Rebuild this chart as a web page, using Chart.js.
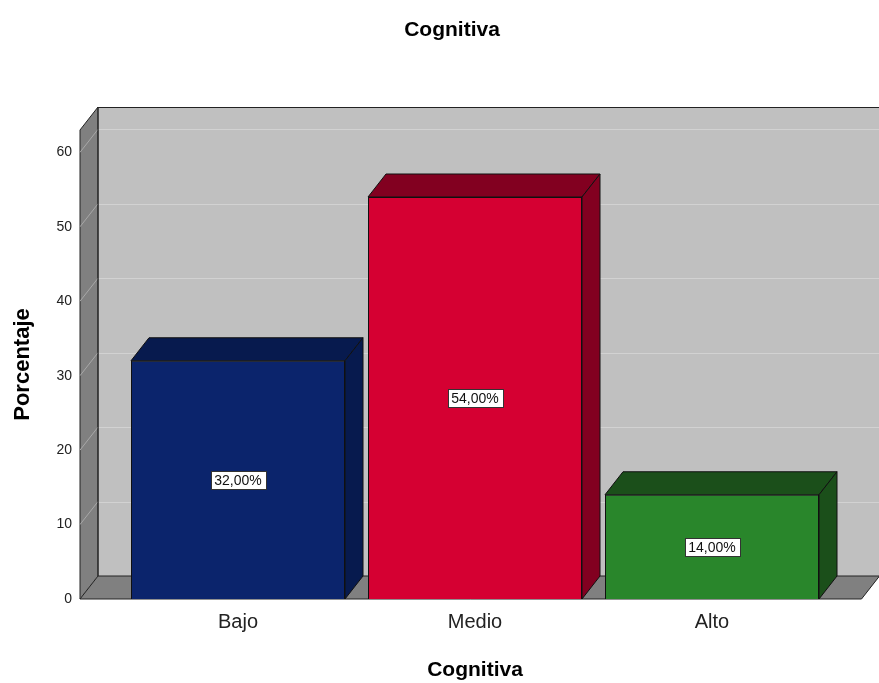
<!DOCTYPE html>
<html>
<head>
<meta charset="utf-8">
<script src="https://cdn.jsdelivr.net/npm/chart.js@4.4.1/dist/chart.umd.min.js"></script>
<style>
  body { margin: 0; background: #fff; }
  #wrap { width: 879px; height: 683px; }
</style>
</head>
<body>
<div id="wrap"><canvas id="chart" width="879" height="683"></canvas></div>
<script>
// chart values
const categories = ['Bajo', 'Medio', 'Alto'];
const percentages = [32, 54, 14];
const valueLabels = ['32,00%', '54,00%', '14,00%'];
const yTicks = [0, 10, 20, 30, 40, 50, 60];

const FONT = "'Liberation Sans', Arial, sans-serif";
const frontColors = ['#0b246c', '#d50032', '#29862b'];
const sideColors = ['#071a4e', '#820020', '#1b4f1a'];

// 3D look: depth offset of the back plane
const DX = 18, DY = -23;
const WALL_GAP = 39.5;   // front wall sits left of the chart area
const FLOOR_EXTRA = 31;  // floor runs past the chart area on the right

const box3d = {
  id: 'box3d',
  afterLayout(chart) {
    // centre the main title over the whole 3D frame, not the flat chart area
    if (chart.titleBlock) {
      chart.titleBlock.left = 25;
      chart.titleBlock.right = chart.width;
    }
  },
  beforeDatasetsDraw(chart) {
    const { ctx, chartArea: a, scales: { y } } = chart;
    const fx0 = a.left - WALL_GAP, fx1 = a.right + FLOOR_EXTRA;
    const top = y.getPixelForValue(y.max), base = y.getPixelForValue(0);
    ctx.save();
    ctx.lineWidth = 1;
    // back wall
    ctx.fillStyle = '#c0c0c0';
    ctx.fillRect(fx0 + DX, top + DY, fx1 + DX - (fx0 + DX) + 20, base - top);
    // back wall grid
    ctx.strokeStyle = '#d2d2d2';
    yTicks.forEach(v => {
      const py = Math.round(y.getPixelForValue(v) + DY) + 0.5;
      ctx.beginPath(); ctx.moveTo(fx0 + DX, py); ctx.lineTo(fx1 + DX + 20, py); ctx.stroke();
    });
    ctx.strokeStyle = '#222';
    ctx.beginPath(); ctx.moveTo(fx0 + DX, top + DY + 0.5); ctx.lineTo(fx1 + DX + 20, top + DY + 0.5); ctx.stroke();
    // left wall
    ctx.fillStyle = '#808080';
    ctx.beginPath();
    ctx.moveTo(fx0, base); ctx.lineTo(fx0, top); ctx.lineTo(fx0 + DX, top + DY); ctx.lineTo(fx0 + DX, base + DY);
    ctx.closePath(); ctx.fill(); ctx.stroke();
    ctx.strokeStyle = '#a8a8a8';
    yTicks.forEach(v => {
      const py = y.getPixelForValue(v);
      ctx.beginPath(); ctx.moveTo(fx0, py); ctx.lineTo(fx0 + DX, py + DY); ctx.stroke();
    });
    // floor
    ctx.fillStyle = '#808080';
    ctx.strokeStyle = '#222';
    ctx.beginPath();
    ctx.moveTo(fx0, base); ctx.lineTo(fx1, base); ctx.lineTo(fx1 + DX, base + DY); ctx.lineTo(fx0 + DX, base + DY);
    ctx.closePath(); ctx.fill(); ctx.stroke();
    ctx.beginPath(); ctx.moveTo(fx0 + DX, top + DY); ctx.lineTo(fx0 + DX, base + DY); ctx.stroke();
    ctx.restore();
  },
  afterDatasetsDraw(chart) {
    const { ctx } = chart;
    const bars = chart.getDatasetMeta(0).data;
    ctx.save();
    ctx.lineWidth = 1;
    bars.forEach((bar, i) => {
      const { x, y, base, width } = bar.getProps(['x', 'y', 'base', 'width'], true);
      const x0 = x - width / 2, x1 = x + width / 2;
      ctx.fillStyle = sideColors[i];
      ctx.strokeStyle = '#111';
      // top face
      ctx.beginPath();
      ctx.moveTo(x0, y); ctx.lineTo(x0 + DX, y + DY); ctx.lineTo(x1 + DX, y + DY); ctx.lineTo(x1, y);
      ctx.closePath(); ctx.fill(); ctx.stroke();
      // right face
      ctx.beginPath();
      ctx.moveTo(x1, y); ctx.lineTo(x1 + DX, y + DY); ctx.lineTo(x1 + DX, base + DY); ctx.lineTo(x1, base);
      ctx.closePath(); ctx.fill(); ctx.stroke();
      // value label
      ctx.font = '14px ' + FONT;
      const tw = ctx.measureText(valueLabels[i]).width;
      const cy = (y + base) / 2;
      const bw = Math.round(tw + 8), bh = 18;
      const bx = Math.round(x - bw / 2) + 0.5, by = Math.round(cy - bh / 2) + 0.5;
      ctx.fillStyle = '#fff';
      ctx.fillRect(bx, by, bw, bh);
      ctx.strokeStyle = '#333';
      ctx.strokeRect(bx, by, bw, bh);
      ctx.fillStyle = '#111';
      ctx.textAlign = 'center';
      ctx.textBaseline = 'middle';
      ctx.fillText(valueLabels[i], x, cy + 1);
    });
    ctx.restore();
  }
};

new Chart(document.getElementById('chart'), {
  type: 'bar',
  data: {
    labels: categories,
    datasets: [{
      data: percentages,
      backgroundColor: frontColors,
      borderColor: '#111',
      borderWidth: 1,
      barPercentage: 0.903,
      categoryPercentage: 1
    }]
  },
  options: {
    responsive: false,
    animation: false,
    events: [],
    layout: { padding: { left: 25, right: 48.5, top: 0, bottom: 0 } },
    plugins: {
      legend: { display: false },
      tooltip: { enabled: false },
      title: {
        display: true,
        text: 'Cognitiva',
        color: '#000',
        font: { family: FONT, size: 21, weight: 'bold' },
        padding: { top: 18, bottom: 86.8 }
      }
    },
    scales: {
      x: {
        offset: true,
        grid: { display: false, drawTicks: false },
        border: { display: false },
        ticks: { color: '#222', font: { family: FONT, size: 20 }, padding: 11 },
        title: {
          display: true,
          text: 'Cognitiva',
          color: '#000',
          font: { family: FONT, size: 21, weight: 'bold' },
          padding: { top: 0, bottom: 0 }
        },
        afterFit(scale) { scale.height = 84; }
      },
      y: {
        min: 0,
        max: 63,
        grid: { display: false, drawTicks: false },
        border: { display: false },
        ticks: {
          stepSize: 10,
          includeBounds: false,
          color: '#222',
          font: { family: FONT, size: 14 },
          padding: 47.5
        },
        title: {
          display: true,
          text: 'Porcentaje',
          color: '#000',
          font: { family: FONT, size: 22, weight: 'bold' },
          padding: { top: -15.2, bottom: 0 }
        },
        afterFit(scale) { scale.width = 94.5; }
      }
    }
  },
  plugins: [box3d]
});
</script>
</body>
</html>
